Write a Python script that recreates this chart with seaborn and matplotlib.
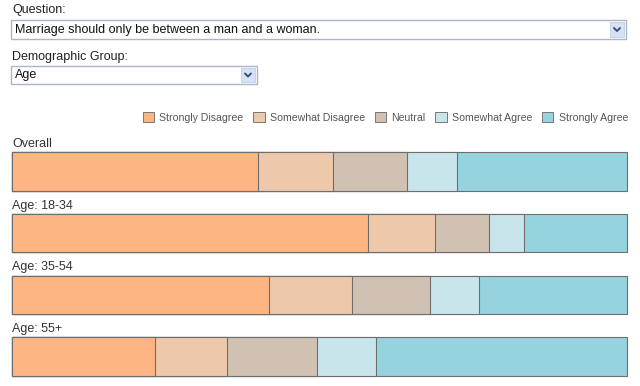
import matplotlib
matplotlib.use("Agg")
import matplotlib.pyplot as plt
from matplotlib.patches import Rectangle, Patch
import numpy as np
import pandas as pd
import seaborn as sns

# ---- data ----
groups = ["Overall", "Age: 18-34", "Age: 35-54", "Age: 55+"]
responses = ["Strongly Disagree", "Somewhat Disagree", "Neutral", "Somewhat Agree", "Strongly Agree"]
strongly_disagree = [40.1, 58.0, 41.8, 23.3]
somewhat_disagree = [12.1, 10.8, 13.6, 11.7]
neutral = [12.1, 8.8, 12.6, 14.6]
somewhat_agree = [8.0, 5.6, 8.0, 9.7]
strongly_agree = [27.7, 16.8, 24.0, 40.7]
colors = ["#FDB584", "#EEC8AA", "#D0C1B2", "#C9E5EC", "#95D3DF"]
question_label = "Question:"
question_text = "Marriage should only be between a man and a woman."
demo_label = "Demographic Group:"
demo_text = "Age"

sns.set_style("white")
plt.rcParams["font.family"] = ["Liberation Sans", "DejaVu Sans"]

W, H = 640, 386
fig = plt.figure(figsize=(W / 100, H / 100), dpi=100)
fig.patch.set_facecolor("white")


def fx(px):
    return px / W


def fy(py):
    return 1 - py / H


# ---- UI-like header (dropdowns) ----
def dropdown(x0, y0, x1, y1, text):
    fig.patches.append(Rectangle((fx(x0), fy(y1)), fx(x1 - x0), (y1 - y0) / H,
                                 transform=fig.transFigure, facecolor="white",
                                 edgecolor="#A9B7C9", linewidth=1.0))
    bx0 = x1 - 16
    fig.patches.append(Rectangle((fx(bx0), fy(y1 - 2)), fx(14), (y1 - y0 - 4) / H,
                                 transform=fig.transFigure, facecolor="#D6E1F3",
                                 edgecolor="#C6D3E8", linewidth=0.7))
    cx = bx0 + 7
    cy = (y0 + y1) / 2
    fig.lines.append(plt.Line2D([fx(cx - 3), fx(cx), fx(cx + 3)],
                                [fy(cy - 1.5), fy(cy + 1.5), fy(cy - 1.5)],
                                transform=fig.transFigure, color="#35507F", linewidth=1.4))
    fig.text(fx(x0 + 4), fy(cy), text, fontsize=9.0, color="#111111", va="center", ha="left")


fig.text(fx(12), fy(10), question_label, fontsize=9.0, color="#222222", va="center", ha="left")
dropdown(11, 20, 626, 39, question_text)
fig.text(fx(12), fy(57), demo_label, fontsize=9.0, color="#222222", va="center", ha="left")
dropdown(11, 66, 257, 84, demo_text)

# ---- bars ----
ax_left, ax_right = 11.5, 627
ax_top, ax_bot = 140.7, 384.3
ax = fig.add_axes([fx(ax_left), fy(ax_bot), fx(ax_right - ax_left), (ax_bot - ax_top) / H])

df = pd.DataFrame({
    "group": groups,
    responses[0]: strongly_disagree,
    responses[1]: somewhat_disagree,
    responses[2]: neutral,
    responses[3]: somewhat_agree,
    responses[4]: strongly_agree,
})
cum = df[responses].cumsum(axis=1)
for i in range(len(responses) - 1, -1, -1):
    sns.barplot(x=cum[responses[i]], y=df["group"], orient="h", color=colors[i],
                width=0.625, edgecolor="#6E6E6E", linewidth=0.8, ax=ax,
                saturation=1)
for p in ax.patches:
    p.set_clip_on(False)

ax.set_xlim(0, cum[responses[-1]].max())
ax.set_ylim(3.45, -0.5)
ax.set_xlabel("")
ax.set_ylabel("")
ax.set_xticks([])
ax.set_yticks([])
for s in ax.spines.values():
    s.set_visible(False)
ax.patch.set_alpha(0)

for i, g in enumerate(groups):
    ax.text(0.1, i - 0.3125 - 0.035, g, fontsize=9.0, color="#333333",
            ha="left", va="bottom")

# ---- legend ----
handles = [Patch(facecolor=c, edgecolor="#777777", linewidth=0.7, label=r)
           for c, r in zip(colors, responses)]
fig.legend(handles=handles, loc="center right", bbox_to_anchor=(fx(628), fy(117.5)),
           ncol=5, frameon=False, fontsize=7.6, handlelength=1.05, handleheight=1.05,
           handletextpad=0.5, columnspacing=0.95, labelcolor="#555555",
           borderaxespad=0, borderpad=0)

fig.savefig("out.png", dpi=100, facecolor="white")
